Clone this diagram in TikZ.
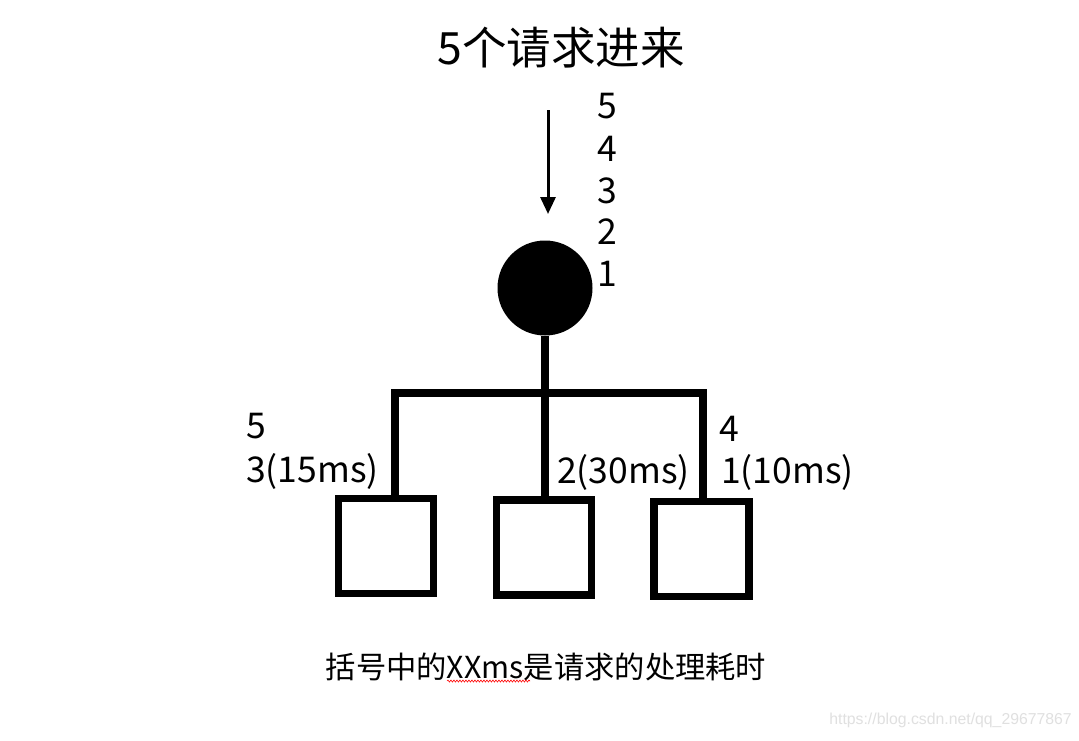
\documentclass[tikz,border=0pt]{standalone}
\usepackage{fontspec}
\setmainfont{Noto Sans CJK SC}
\newfontfamily\wmfont{Liberation Sans}
\usetikzlibrary{arrows.meta,decorations.pathmorphing}
\begin{document}
\begin{tikzpicture}[x=1pt,y=-1pt,
  boxstyle/.style={draw,line width=7.5pt,minimum width=95pt,minimum height=95pt,inner sep=0pt},
  wire/.style={line width=7.5pt},
  lbl/.style={inner sep=0pt,font=\fontsize{35.5}{40}\selectfont},
  titlestyle/.style={inner sep=0pt,font=\fontsize{44.5}{50}\selectfont},
  notestyle/.style={inner sep=0pt,font=\fontsize{30.3}{34}\selectfont},
  wmstyle/.style={inner sep=0pt,text=black!12,font=\wmfont\fontsize{15.8}{18}\selectfont}]
\useasboundingbox[fill=white] (0,0) rectangle (1079,740);
% title
\node[titlestyle] (title) at (561,48) {5个请求进来};
% arrow
\coordinate (a0) at (548,110);
\coordinate (a1) at (548,214);
\draw[line width=3pt,-{Triangle[length=17pt,width=15pt]}] (a0) -- (a1);
% queue numbers
\node[lbl,anchor=base west] (q5) at (597,118) {5};
\node[lbl,anchor=base west] (q4) at (597,161) {4};
\node[lbl,anchor=base west] (q3) at (597,203) {3};
\node[lbl,anchor=base west] (q2) at (597,244) {2};
\node[lbl,anchor=base west] (q1) at (597,286) {1};
% dispatcher
\node[circle,fill=black,minimum size=95pt,inner sep=0pt] (c) at (545,288) {};
% workers
\node[boxstyle] (b1) at (386,546) {};
\node[boxstyle] (b2) at (544,547.5) {};
\node[boxstyle] (b3) at (701.5,549) {};
% wiring
\coordinate (jl) at (395,393);
\coordinate (jm) at (545,393);
\coordinate (jr) at (703,393);
\draw[wire] (c.south) -- (jm);
\draw[wire,line join=miter] (b1.north -| jl) -- (jl) -- (jr) -- (b3.north -| jr);
\draw[wire] (jm) -- (b2.north -| jm);
% labels
\node[lbl,anchor=base west] (l5) at (246,438) {5};
\node[lbl,anchor=base west] (l3) at (246,482) {3(15ms)};
\node[lbl,anchor=base west] (l2) at (557,483) {2(30ms)};
\node[lbl,anchor=base west] (l4) at (719,441) {4};
\node[lbl,anchor=base west] (l1) at (721,483) {1(10ms)};
% note
\node[notestyle] (note) at (546,667) {括号中的XXms是请求的处理耗时};
\coordinate (w0) at (447,681);
\coordinate (w1) at (530,681);
\draw[red,line width=0.6pt,decorate,decoration={snake,amplitude=1pt,segment length=3pt}] (w0) -- (w1);
% watermark
\node[wmstyle,anchor=east] (wm) at (1072,720) {https://blog.csdn.net/qq\_29677867};
\end{tikzpicture}
\end{document}
